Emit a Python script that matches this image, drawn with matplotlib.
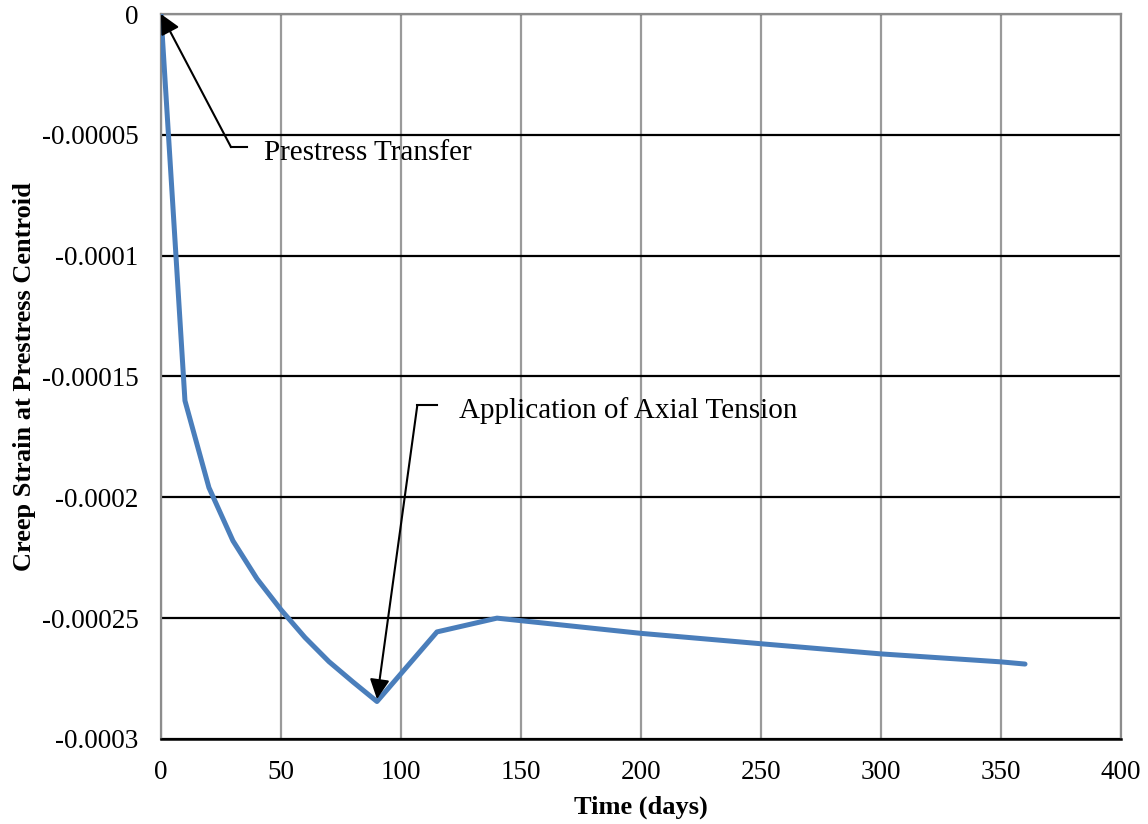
import matplotlib.pyplot as plt

# creep strain at prestress centroid vs time
days = [0, 10, 20, 30, 40, 50, 60, 70, 80, 90, 115, 140, 200, 250, 300, 350, 360]
strain = [0, -0.00016, -0.000196, -0.000218, -0.0002337, -0.0002465, -0.000258,
          -0.000268, -0.0002764, -0.0002845, -0.0002557, -0.00025, -0.0002563,
          -0.0002606, -0.0002648, -0.0002681, -0.000269]

xticks = [0, 50, 100, 150, 200, 250, 300, 350, 400]
yticks = [0, -0.00005, -0.0001, -0.00015, -0.0002, -0.00025, -0.0003]
ylabels = ['0', '-0.00005', '-0.0001', '-0.00015', '-0.0002', '-0.00025', '-0.0003']

plt.rcParams['font.family'] = ['Liberation Serif', 'DejaVu Serif']

fig = plt.figure(figsize=(11.48, 8.24), dpi=100)
ax = fig.add_axes([0.1402, 0.1032, 0.8363, 0.8798])

ax.plot(days, strain, color='#4a7ebb', lw=3.6, solid_capstyle='round', zorder=3)

ax.set_xlim(0, 400)
ax.set_ylim(-0.0003, 0)
ax.set_xticks(xticks)
ax.set_xticklabels([str(t) for t in xticks])
ax.set_yticks(yticks)
ax.set_yticklabels(ylabels)
ax.tick_params(labelsize=19.5, length=0)
ax.tick_params(axis='x', pad=15)
ax.tick_params(axis='y', pad=16)

ax.xaxis.grid(True, color='#9a9a9a', lw=1.6)
ax.yaxis.grid(True, color='black', lw=1.6)
ax.set_axisbelow(True)
for side in ['left', 'top', 'right']:
    ax.spines[side].set_color('#8c8c8c')
    ax.spines[side].set_linewidth(1.6)
ax.spines['bottom'].set_color('black')
ax.spines['bottom'].set_linewidth(1.8)

ax.set_xlabel('Time (days)', fontsize=19, fontweight='bold', labelpad=8)
ax.set_ylabel('Creep Strain at Prestress Centroid', fontsize=19, fontweight='bold', labelpad=4)

# callouts
arrow = dict(arrowstyle='-|>', color='black', lw=1.5, mutation_scale=30, shrinkA=0, shrinkB=0)
ax.plot([29.2, 35.8], [-0.0000551, -0.0000551], color='black', lw=1.5, zorder=4)
ax.annotate('', xy=(0, 0), xytext=(29.2, -0.0000551), arrowprops=arrow, zorder=4)
ax.text(43, -0.0000575, 'Prestress Transfer', fontsize=21, va='center', ha='left')

ax.plot([106.8, 115], [-0.000162, -0.000162], color='black', lw=1.5, zorder=4)
ax.annotate('', xy=(90, -0.0002835), xytext=(106.8, -0.000162), arrowprops=arrow, zorder=4)
ax.text(124, -0.000164, 'Application of Axial Tension', fontsize=21, va='center', ha='left')

fig.savefig('out.png', dpi=100)
